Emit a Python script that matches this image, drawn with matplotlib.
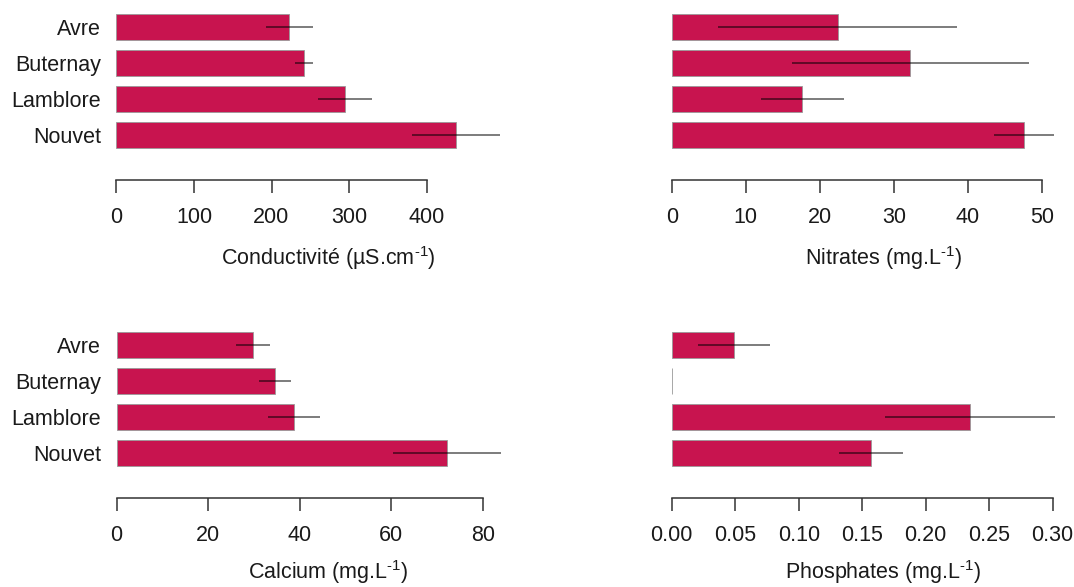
import matplotlib
matplotlib.use('Agg')
import matplotlib.pyplot as plt
import numpy as np

plt.rcParams['font.family'] = ['Liberation Sans', 'DejaVu Sans']
plt.rcParams['mathtext.fontset'] = 'custom'
plt.rcParams['mathtext.rm'] = 'Liberation Sans'
plt.rcParams['mathtext.it'] = 'Liberation Sans'

sites = ['Avre', 'Buternay', 'Lamblore', 'Nouvet']

cond_mean = [223, 242, 295, 438]
cond_err = [30, 11.5, 35, 57]
nitr_mean = [22.4, 32.2, 17.6, 47.6]
nitr_err = [16.1, 16.0, 5.6, 4.1]
calc_mean = [29.9, 34.7, 38.8, 72.1]
calc_err = [3.7, 3.5, 5.7, 11.8]
phos_mean = [0.049, 0.0, 0.235, 0.157]
phos_err = [0.028, 0.0, 0.067, 0.0255]

cond_ticks = [0, 100, 200, 300, 400]
nitr_ticks = [0, 10, 20, 30, 40, 50]
calc_ticks = [0, 20, 40, 60, 80]
phos_ticks = [0.00, 0.05, 0.10, 0.15, 0.20, 0.25, 0.30]

W, H = 1074, 587
fig = plt.figure(figsize=(W / 100, H / 100), dpi=100)

BAR = '#C8144F'
FS = 15.5
SUP = r'$^{\text{-}1}$'


def panel(px0, px1, ptop, pbot, mean, err, ticks, fmt, xlabel, labcx, laby, show_names):
    ax = fig.add_axes([px0 / W, 1 - pbot / H, (px1 - px0) / W, (pbot - ptop) / H])
    y = np.arange(len(sites))
    ax.barh(y, mean, height=0.72, color=BAR, edgecolor='#999999', linewidth=0.6, clip_on=False)
    lo = np.array(mean) - np.array(err)
    hi = np.array(mean) + np.array(err)
    ax.hlines(y, lo, hi, color='black', alpha=0.6, linewidth=1.2, clip_on=False)
    ax.set_xlim(ticks[0], ticks[-1])
    ax.set_ylim(4.25, -0.36)
    for s in ['top', 'right', 'left']:
        ax.spines[s].set_visible(False)
    ax.spines['bottom'].set_bounds(ticks[0], ticks[-1])
    ax.spines['bottom'].set_color('#333333')
    ax.spines['bottom'].set_linewidth(1.1)
    ax.set_xticks(ticks)
    ax.set_xticklabels([fmt % t for t in ticks])
    ax.tick_params(axis='x', length=9.5, width=1.1, color='#333333', pad=10, labelsize=FS, labelcolor='#1a1a1a')
    ax.set_yticks(y)
    if show_names:
        ax.set_yticklabels(sites)
    else:
        ax.set_yticklabels([])
    ax.tick_params(axis='y', length=0, pad=11, labelsize=FS, labelcolor='#1a1a1a')
    ax.set_xlabel(xlabel, fontsize=FS, color='#1a1a1a')
    ax.xaxis.set_label_coords((labcx - px0) / (px1 - px0), -(laby - pbot) / (pbot - ptop), transform=ax.transAxes)
    ax.xaxis.label.set_verticalalignment('center')
    return ax


panel(116.4, 426.6, 14, 180, cond_mean, cond_err, cond_ticks, '%d',
      'Conductivité (µS.cm' + SUP + ')', 328.7, 258, True)
panel(671.8, 1041.9, 14, 180, nitr_mean, nitr_err, nitr_ticks, '%d',
      'Nitrates (mg.L' + SUP + ')', 883.0, 258, False)
panel(116.6, 482.7, 332, 498, calc_mean, calc_err, calc_ticks, '%d',
      'Calcium (mg.L' + SUP + ')', 328.7, 572, True)
panel(671.8, 1052.6, 332, 498, phos_mean, phos_err, phos_ticks, '%.2f',
      'Phosphates (mg.L' + SUP + ')', 883.0, 572, False)

fig.savefig('out.png', dpi=100)
